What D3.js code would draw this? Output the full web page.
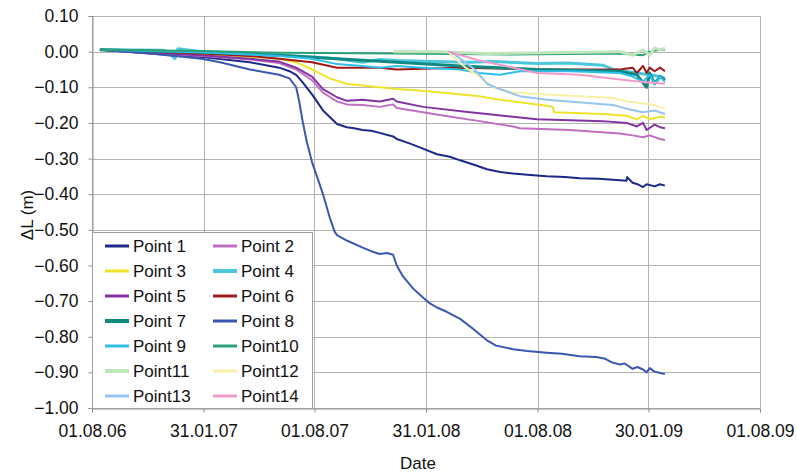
<!DOCTYPE html>
<html lang="en">
<head>
<meta charset="UTF-8">
<title>Delta L over time</title>
<script src="https://d3js.org/d3.v7.min.js"></script>
<style>
  body { margin: 0; background: #fff; }
  text { font-family: Arial, "Liberation Sans", sans-serif; fill: #111; }
</style>
</head>
<body>
<script>

// y axis ticks and x axis dates
const yTicks = [0.10, 0.00, -0.10, -0.20, -0.30, -0.40, -0.50, -0.60, -0.70, -0.80, -0.90, -1.00];
const xTickDates = ["2006-08-01", "2007-01-31", "2007-08-01", "2008-01-31", "2008-08-01", "2009-01-30", "2009-08-01"];

const names = ["Point 1", "Point 2", "Point 3", "Point 4", "Point 5", "Point 6", "Point 7",
               "Point 8", "Point 9", "Point10", "Point11", "Point12", "Point13", "Point14"];

const point1 = [["2006-08-14",0.005],["2006-11-04",-0.005],["2007-01-28",-0.015],["2007-04-17",-0.03],
  ["2007-06-04",-0.045],["2007-06-21",-0.055],["2007-07-02",-0.065],["2007-07-12",-0.085],["2007-07-28",-0.12],
  ["2007-08-15",-0.165],["2007-09-07",-0.203],["2007-09-23",-0.212],["2007-10-05",-0.215],["2007-10-19",-0.22],
  ["2007-11-02",-0.222],["2007-11-16",-0.228],["2007-12-08",-0.238],["2007-12-14",-0.245],["2008-01-05",-0.258],
  ["2008-01-26",-0.272],["2008-02-18",-0.288],["2008-03-10",-0.295],["2008-03-27",-0.305],["2008-04-20",-0.318],
  ["2008-05-10",-0.33],["2008-06-01",-0.338],["2008-06-22",-0.342],["2008-07-20",-0.346],["2008-08-16",-0.35],
  ["2008-09-15",-0.352],["2008-10-09",-0.355],["2008-11-10",-0.357],["2008-12-25",-0.362],["2008-12-26",-0.352],
  ["2009-01-04",-0.368],["2009-01-12",-0.372],["2009-01-21",-0.38],["2009-01-27",-0.372],["2009-02-09",-0.378],
  ["2009-02-18",-0.372],["2009-02-26",-0.376]];
const point2 = [["2006-08-14",0.005],["2006-11-04",-0.004],["2007-01-28",-0.012],["2007-04-17",-0.022],
  ["2007-06-04",-0.032],["2007-07-02",-0.05],["2007-07-28",-0.08],["2007-08-15",-0.115],["2007-09-07",-0.14],
  ["2007-09-23",-0.148],["2007-10-19",-0.15],["2007-11-16",-0.155],["2007-12-08",-0.148],["2007-12-14",-0.158],
  ["2008-01-26",-0.17],["2008-03-01",-0.18],["2008-04-28",-0.195],["2008-06-22",-0.21],["2008-07-03",-0.215],
  ["2008-09-23",-0.22],["2008-12-14",-0.23],["2009-01-04",-0.235],["2009-01-21",-0.24],["2009-02-01",-0.235],
  ["2009-02-18",-0.245],["2009-02-26",-0.248]];
const point3 = [["2006-08-14",0.005],["2006-11-04",0],["2007-01-28",-0.008],["2007-04-17",-0.015],
  ["2007-06-04",-0.02],["2007-07-02",-0.03],["2007-07-28",-0.05],["2007-08-26",-0.075],["2007-09-23",-0.09],
  ["2007-10-19",-0.095],["2007-11-16",-0.10],["2007-12-14",-0.105],["2008-01-26",-0.11],["2008-04-28",-0.125],
  ["2008-05-31",-0.135],["2008-08-16",-0.152],["2008-08-26",-0.155],["2008-08-28",-0.17],["2008-11-16",-0.175],
  ["2008-12-25",-0.18],["2009-01-11",-0.19],["2009-01-21",-0.18],["2009-02-01",-0.19],["2009-02-18",-0.183],
  ["2009-02-26",-0.185]];
const point4 = [["2006-08-14",0.005],["2006-11-25",0.004],["2006-12-07",-0.005],
  ["2006-12-15",-0.02],["2006-12-20",0.008],["2007-01-28",0],["2007-04-17",-0.005],["2007-06-04",-0.01],
  ["2007-07-28",-0.015],["2007-09-07",-0.02],["2007-10-19",-0.03],["2007-11-16",-0.022],["2007-12-14",-0.025],
  ["2008-02-10",-0.028],["2008-04-12",-0.03],["2008-05-20",-0.028],["2008-07-31",-0.033],["2008-09-20",-0.032],
  ["2008-11-16",-0.038],["2008-12-03",-0.05],["2009-01-11",-0.06],["2009-02-01",-0.065],["2009-02-18",-0.07],
  ["2009-02-26",-0.075]];
const point5 = [["2006-08-14",0.005],["2006-11-04",-0.003],["2007-01-28",-0.01],["2007-04-17",-0.02],
  ["2007-06-04",-0.028],["2007-07-02",-0.045],["2007-07-28",-0.07],["2007-08-15",-0.105],["2007-09-07",-0.128],
  ["2007-09-23",-0.138],["2007-10-19",-0.135],["2007-11-16",-0.14],["2007-12-08",-0.132],["2007-12-14",-0.14],
  ["2008-01-26",-0.155],["2008-04-12",-0.17],["2008-05-10",-0.175],["2008-07-31",-0.19],["2008-11-16",-0.195],
  ["2008-12-25",-0.2],["2009-01-11",-0.21],["2009-01-21",-0.2],["2009-01-27",-0.22],["2009-02-09",-0.205],
  ["2009-02-18",-0.212],["2009-02-26",-0.215]];
const point6 = [["2006-08-14",0.005],["2006-11-04",0],["2007-01-28",-0.005],["2007-04-17",-0.012],
  ["2007-06-04",-0.02],["2007-07-28",-0.03],["2007-09-07",-0.045],["2007-11-16",-0.045],["2007-12-14",-0.05],
  ["2008-03-27",-0.045],["2008-07-31",-0.05],["2008-12-14",-0.05],["2009-01-04",-0.045],["2009-01-11",-0.06],
  ["2009-01-21",-0.04],["2009-01-27",-0.06],["2009-02-01",-0.045],["2009-02-09",-0.055],["2009-02-18",-0.045],
  ["2009-02-26",-0.055]];
const point7 = [["2006-08-14",0.005],["2006-11-04",0.002],["2007-01-28",-0.002],["2007-06-04",-0.01],
  ["2007-09-07",-0.02],["2007-12-14",-0.03],["2008-03-27",-0.04],["2008-07-31",-0.05],["2008-12-14",-0.055],
  ["2009-01-11",-0.065],["2009-01-27",-0.1],["2009-02-01",-0.06],["2009-02-09",-0.09],["2009-02-18",-0.07],
  ["2009-02-26",-0.08]];
const point8 = [["2006-08-14",0.005],["2006-11-04",-0.005],["2007-01-28",-0.02],["2007-02-27",-0.03],
  ["2007-04-17",-0.05],["2007-06-04",-0.065],["2007-06-21",-0.075],["2007-07-02",-0.10],["2007-07-07",-0.14],
  ["2007-07-12",-0.19],["2007-07-19",-0.25],["2007-07-28",-0.31],["2007-08-15",-0.40],["2007-08-26",-0.465],
  ["2007-09-03",-0.505],["2007-09-07",-0.515],["2007-09-23",-0.53],["2007-10-19",-0.55],["2007-11-02",-0.56],
  ["2007-11-16",-0.568],["2007-11-28",-0.565],["2007-12-08",-0.57],["2007-12-14",-0.60],["2007-12-24",-0.63],
  ["2008-01-10",-0.665],["2008-01-26",-0.69],["2008-02-05",-0.705],["2008-02-18",-0.718],["2008-03-05",-0.73],
  ["2008-03-27",-0.75],["2008-04-15",-0.775],["2008-05-10",-0.81],["2008-05-25",-0.825],["2008-06-22",-0.835],
  ["2008-07-15",-0.84],["2008-08-16",-0.845],["2008-09-10",-0.848],["2008-10-09",-0.855],["2008-11-05",-0.857],
  ["2008-11-20",-0.862],["2008-12-01",-0.872],["2008-12-14",-0.878],["2008-12-22",-0.875],["2009-01-04",-0.89],
  ["2009-01-12",-0.885],["2009-01-21",-0.892],["2009-01-27",-0.90],["2009-02-01",-0.888],["2009-02-09",-0.898],
  ["2009-02-18",-0.902],["2009-02-26",-0.905]];
const point9 = [["2006-08-14",0.005],["2006-11-04",0.002],["2007-01-28",-0.002],["2007-04-17",-0.008],
  ["2007-06-04",-0.012],["2007-07-28",-0.02],["2007-09-07",-0.035],["2007-10-19",-0.04],["2007-11-16",-0.045],
  ["2007-12-14",-0.04],["2008-01-26",-0.045],["2008-03-27",-0.05],["2008-04-28",-0.06],["2008-05-31",-0.065],
  ["2008-07-03",-0.055],["2008-09-23",-0.055],["2008-12-14",-0.06],["2009-01-04",-0.07],["2009-01-21",-0.085],
  ["2009-02-01",-0.065],["2009-02-09",-0.09],["2009-02-18",-0.07],["2009-02-26",-0.085]];
const point10 = [["2006-08-14",0.005],["2007-01-28",0.002],["2007-06-04",-0.003],["2007-12-14",-0.005],
  ["2008-06-22",-0.008],["2008-12-14",-0.005],["2009-01-21",-0.01],["2009-02-01",0],["2009-02-18",0.005],
  ["2009-02-26",0.005]];
const point11 = [["2007-12-08",0.0],["2008-02-18",0.0],["2008-05-10",-0.005],["2008-08-16",-0.003],
  ["2008-12-14",0],["2009-01-04",-0.01],["2009-01-21",0.005],["2009-02-01",-0.01],["2009-02-09",0.01],
  ["2009-02-18",0.005],["2009-02-26",0.01]];
const point12 = [["2008-03-07",0],["2008-04-05",-0.045],["2008-04-28",-0.07],["2008-05-20",-0.10],
  ["2008-06-22",-0.115],["2008-08-16",-0.12],["2008-12-03",-0.13],["2008-12-25",-0.14],["2009-01-21",-0.145],
  ["2009-02-09",-0.15],["2009-02-26",-0.16]];
const point13 = [["2008-03-12",0],["2008-04-20",-0.05],["2008-05-10",-0.09],["2008-05-31",-0.105],
  ["2008-07-03",-0.125],["2008-08-16",-0.135],["2008-12-03",-0.15],["2008-12-25",-0.16],["2009-01-21",-0.17],
  ["2009-02-09",-0.165],["2009-02-26",-0.175]];
const point14 = [["2008-03-07",0],["2008-04-28",-0.025],["2008-06-22",-0.045],["2008-07-31",-0.06],
  ["2008-10-09",-0.065],["2008-12-25",-0.08],["2009-01-21",-0.085],["2009-02-26",-0.09]];

const allPoints = [point1, point2, point3, point4, point5, point6, point7,
                   point8, point9, point10, point11, point12, point13, point14];

const colors = ["#1e2888", "#c06ec0", "#f0e42a", "#4cc6dc", "#8434a2", "#a01818", "#108a80",
                "#3a58b2", "#2ebfe8", "#2aa078", "#c0e4bc", "#f8f0a6", "#98c4f0", "#f29ac8"];
const widths = [2, 2, 2, 3, 2, 2, 3, 2, 2, 2, 3, 2, 2, 2];

const width = 797, height = 472;
const margin = {left: 92, right: 37, top: 16, bottom: 64};

const parse = d3.timeParse("%Y-%m-%d");
const fmt = d3.timeFormat("%d.%m.%y");

const svg = d3.select("body").append("svg")
  .attr("width", width).attr("height", height);

const x = d3.scaleTime()
  .domain([parse("2006-08-01"), parse("2009-08-01")])
  .range([margin.left, width - margin.right]);
const y = d3.scaleLinear()
  .domain([-1.0, 0.1])
  .range([height - margin.bottom, margin.top]);

// gridlines
svg.append("g").selectAll("line")
  .data(yTicks)
  .enter().append("line")
  .attr("x1", margin.left).attr("x2", width - margin.right)
  .attr("y1", d => Math.round(y(d)) + 0.5).attr("y2", d => Math.round(y(d)) + 0.5)
  .attr("stroke", "#b4b4b4").attr("stroke-width", 1);

svg.append("g").selectAll("line")
  .data(xTickDates.map(parse))
  .enter().append("line")
  .attr("x1", d => Math.round(x(d)) + 0.5).attr("x2", d => Math.round(x(d)) + 0.5)
  .attr("y1", margin.top).attr("y2", height - margin.bottom)
  .attr("stroke", "#b4b4b4").attr("stroke-width", 1);

// axes
const yAxis = svg.append("g")
  .attr("transform", `translate(${margin.left + 0.5},0)`)
  .call(d3.axisLeft(y).tickValues(yTicks).tickFormat(d3.format(".2f")).tickSize(4).tickPadding(10));
const xAxis = svg.append("g")
  .attr("transform", `translate(0,${height - margin.bottom + 0.5})`)
  .call(d3.axisBottom(x).tickValues(xTickDates.map(parse)).tickFormat(fmt).tickSize(4).tickPadding(13));

[yAxis, xAxis].forEach(ax => {
  ax.select(".domain").attr("stroke", "#909090");
  ax.selectAll(".tick line").attr("stroke", "#909090");
  ax.selectAll("text")
    .style("font-family", "Arial, 'Liberation Sans', sans-serif")
    .style("font-size", "17.5px")
    .attr("fill", "#111");
});
xAxis.selectAll("text").attr("dy", "0.65em");

// series lines
const line = d3.line()
  .x(d => x(parse(d[0])))
  .y(d => y(d[1]));

svg.append("g").selectAll("path")
  .data(allPoints)
  .enter().append("path")
  .attr("d", d => line(d))
  .attr("fill", "none")
  .attr("stroke", (d, i) => colors[i])
  .attr("stroke-width", (d, i) => widths[i])
  .attr("stroke-linejoin", "round");

// legend
const legend = svg.append("g");
legend.append("rect")
  .attr("x", margin.left + 0.5).attr("y", 232.5)
  .attr("width", 220).attr("height", height - margin.bottom - 232)
  .attr("fill", "#fff").attr("stroke", "#a0a0a0");

const items = legend.selectAll("g")
  .data(names)
  .enter().append("g")
  .attr("transform", (d, i) => `translate(${i % 2 === 0 ? 105 : 213},${246 + Math.floor(i / 2) * 25})`);
items.append("line")
  .attr("x1", 0).attr("x2", 24)
  .attr("stroke", (d, i) => colors[i])
  .attr("stroke-width", (d, i) => widths[i] + 1);
items.append("text")
  .attr("x", 28).attr("dy", "0.35em")
  .style("font-size", "17px")
  .text(d => d);

// axis titles
svg.append("text")
  .attr("transform", "translate(33,215) rotate(-90)")
  .attr("text-anchor", "middle")
  .style("font-size", "17px")
  .text("ΔL (m)");
svg.append("text")
  .attr("x", 418).attr("y", 469)
  .attr("text-anchor", "middle")
  .style("font-size", "17px")
  .text("Date");

</script>
</body>
</html>
